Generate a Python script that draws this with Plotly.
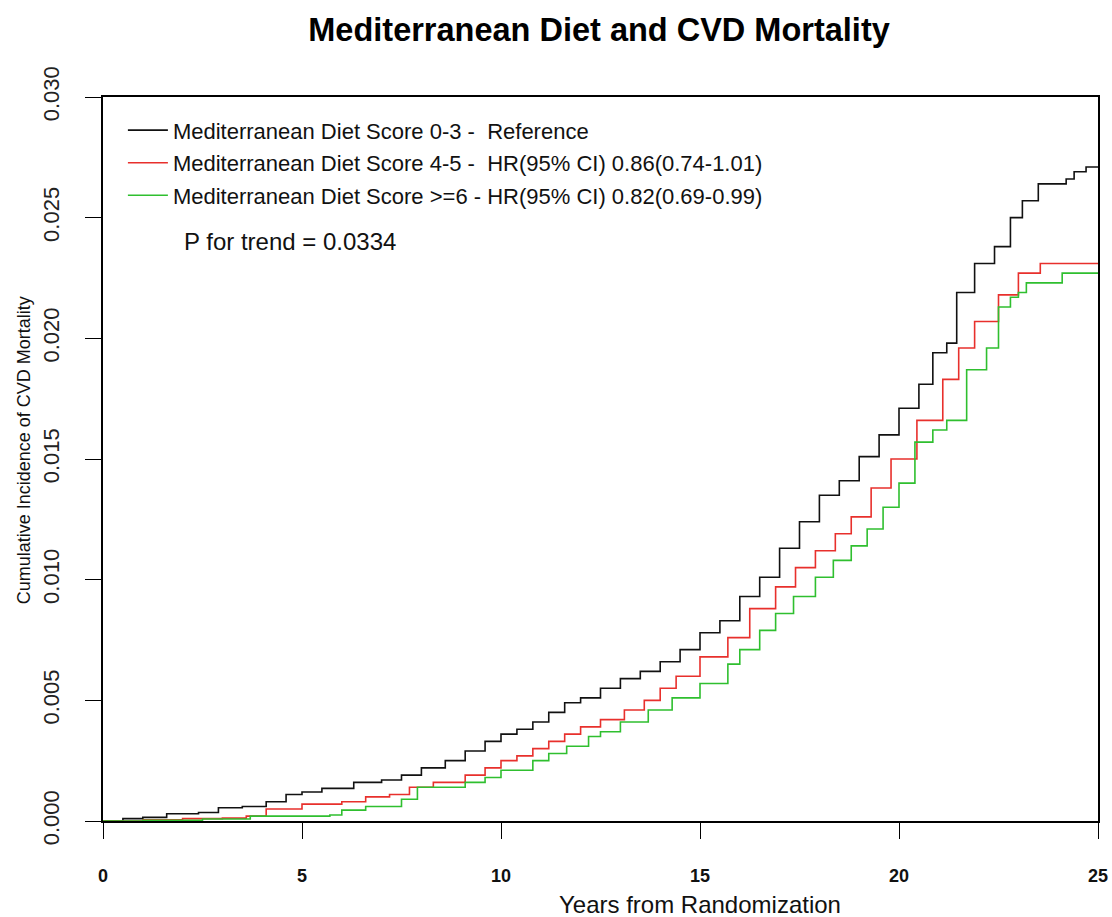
import plotly.graph_objects as go

# Cumulative incidence (step curves)
years_low = [0, 0.5, 1.0, 1.6, 2.4, 2.9, 3.5, 4.1, 4.6, 5.0, 5.5, 6.3, 7.0, 7.5, 8.0, 8.6,
             9.1, 9.6, 10.0, 10.4, 10.8, 11.2, 11.6, 12.0, 12.5, 13.0, 13.5, 14.0, 14.5,
             15.0, 15.5, 16.0, 16.5, 17.0, 17.5, 18.0, 18.5, 19.0, 19.5, 20.0, 20.5,
             20.85, 21.2, 21.45, 21.9, 22.4, 22.8, 23.1, 23.5, 24.2, 24.4, 24.7, 25.0]
inc_low = [0, 0.0001, 0.00015, 0.0003, 0.00035, 0.00055, 0.0006, 0.0008, 0.0011, 0.0012,
           0.00135, 0.0016, 0.0017, 0.0019, 0.0022, 0.0025, 0.0029, 0.0033, 0.0036, 0.0038,
           0.0041, 0.0045, 0.0049, 0.0051, 0.0055, 0.0059, 0.0062, 0.0066, 0.0071, 0.0078,
           0.0083, 0.0093, 0.0101, 0.0113, 0.0124, 0.0135, 0.0141, 0.0151, 0.0160, 0.0171,
           0.0181, 0.0194, 0.0198, 0.0219, 0.0231, 0.0238, 0.0250, 0.0257, 0.0264, 0.0266,
           0.0269, 0.0271, 0.0271]

years_mid = [0, 1.0, 2.0, 3.0, 3.6, 4.1, 5.0, 6.0, 6.6, 7.2, 7.7, 8.3, 9.1, 9.6, 10.0, 10.4,
             10.8, 11.2, 11.6, 12.0, 12.5, 13.1, 13.6, 14.0, 14.4, 15.0, 15.7, 16.25, 16.9,
             17.4, 17.9, 18.4, 18.8, 19.3, 19.8, 20.45, 21.1, 21.5, 21.9, 22.5, 23.0, 23.55,
             25.0]
inc_mid = [0, 0.00005, 0.0001, 0.00012, 0.0002, 0.0005, 0.0007, 0.0008, 0.001, 0.0011,
           0.0014, 0.0016, 0.0019, 0.0022, 0.0025, 0.0027, 0.003, 0.0033, 0.0036, 0.0039,
           0.0042, 0.0046, 0.0050, 0.0055, 0.0060, 0.0068, 0.0076, 0.0088, 0.0097, 0.0105,
           0.0112, 0.0119, 0.0126, 0.0138, 0.0150, 0.0166, 0.0183, 0.0196, 0.0207, 0.0218,
           0.0227, 0.0231, 0.0231]

years_high = [0, 1.0, 2.5, 3.7, 5.7, 6.0, 6.6, 7.5, 7.9, 9.1, 9.6, 10.0, 10.8, 11.2, 11.65,
              12.2, 12.5, 13.0, 13.7, 14.3, 15.0, 15.7, 16.0, 16.5, 16.9, 17.35, 17.9, 18.35,
              18.8, 19.2, 19.6, 20.0, 20.4, 20.85, 21.2, 21.7, 22.2, 22.5, 22.8, 23.0, 23.2,
              24.1, 25.0]
inc_high = [0, 0.00003, 0.00008, 0.0002, 0.00025, 0.00045, 0.0006, 0.0009, 0.0014, 0.0016,
            0.0018, 0.0021, 0.0025, 0.0028, 0.0031, 0.0035, 0.0037, 0.0041, 0.0046, 0.0051,
            0.0057, 0.0065, 0.0071, 0.0079, 0.0086, 0.0093, 0.0101, 0.0108, 0.0114, 0.0121,
            0.0130, 0.0140, 0.0157, 0.0162, 0.0166, 0.0187, 0.0196, 0.0213, 0.0217, 0.0219,
            0.0223, 0.0227, 0.0227]

labels = [
    "Mediterranean Diet Score 0-3 -  Reference",
    "Mediterranean Diet Score 4-5 -  HR(95% CI) 0.86(0.74-1.01)",
    "Mediterranean Diet Score >=6 - HR(95% CI) 0.82(0.69-0.99)",
]
colors = ["#111111", "#e8302c", "#2fbf2f"]
p_trend = "P for trend = 0.0334"

font = "Liberation Sans, Arial, sans-serif"

fig = go.Figure()
for i, (x, y, name, col) in enumerate(zip([years_low, years_mid, years_high],
                                          [inc_low, inc_mid, inc_high], labels, colors)):
    fig.add_trace(go.Scatter(x=x, y=y, mode="lines", line_shape="hv",
                             line=dict(color=col, width=1.6), name=name,
                             legendgroup=f"g{i}"))

fig.update_layout(
    width=1112, height=917,
    paper_bgcolor="white", plot_bgcolor="white",
    margin=dict(l=103, r=14, t=97, b=96),
    font=dict(family=font, color="#111111"),
    title=dict(text="<b>Mediterranean Diet and CVD Mortality</b>",
               x=0.5387, xanchor="center", y=0.9673, yanchor="middle",
               font=dict(size=32.5, color="black")),
    legend=dict(x=0.02, y=0.983, xanchor="left", yanchor="top",
                bgcolor="rgba(0,0,0,0)", font=dict(size=22, color="#111111"),
                itemwidth=40, tracegroupgap=1),
    showlegend=True,
)
fig.update_xaxes(range=[0, 25], tickvals=[0, 5, 10, 15, 20, 25],
                 showgrid=False, zeroline=False, automargin=False,
                 ticklabeloverflow="allow",
                 showline=True, mirror=True, linecolor="black", linewidth=1.5,
                 ticks="outside", ticklen=16, tickwidth=1.3, tickcolor="black",
                 ticklabelstandoff=22,
                 tickfont=dict(size=18, weight="bold", color="#111111"))
fig.update_yaxes(range=[0, 0.030], tickvals=[0, 0.005, 0.01, 0.015, 0.02, 0.025, 0.03],
                 tickformat=".3f", tickangle=-90,
                 showgrid=False, zeroline=False, automargin=False,
                 showline=True, mirror=True, linecolor="black", linewidth=1.5,
                 ticks="outside", ticklen=16, tickwidth=1.3, tickcolor="black",
                 ticklabelstandoff=17,
                 tickfont=dict(size=22, color="#222222"))

fig.add_annotation(text="Years from Randomization", xref="paper", yref="paper",
                   x=0.6, y=-0.116, xanchor="center", yanchor="middle",
                   showarrow=False, font=dict(size=24, color="#111111"))
fig.add_annotation(text="Cumulative Incidence of CVD Mortality", xref="paper", yref="paper",
                   x=-0.0794, y=0.512, xanchor="center", yanchor="middle", textangle=-90,
                   showarrow=False, font=dict(size=18, color="#111111"))
fig.add_annotation(text=p_trend, xref="paper", yref="paper",
                   x=0.0794, y=0.801, xanchor="left", yanchor="middle",
                   showarrow=False, font=dict(size=24, color="#111111"))

# drop the default page margin so the figure fills the window exactly
fig.write_html("out.html", config={"displayModeBar": False},
               post_script="document.body.style.margin='0';"
                           "document.body.style.overflow='hidden';")
